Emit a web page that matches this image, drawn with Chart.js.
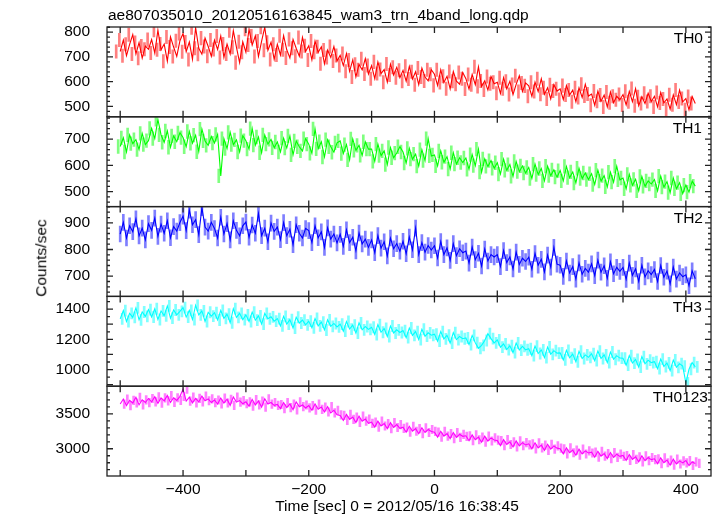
<!DOCTYPE html>
<html>
<head>
<meta charset="utf-8">
<title>wam3 light curves</title>
<script src="https://cdn.jsdelivr.net/npm/chart.js@4.4.1/dist/chart.umd.min.js"></script>
<style>
  html, body { margin: 0; padding: 0; background: #fff; }
  #wrap { position: relative; width: 717px; height: 516px; font-family: "Liberation Sans", Arial, sans-serif; color: #000; }
  #plot { position: absolute; left: 0; top: 0; }
  .txt { position: absolute; font-size: 15.5px; line-height: 1; white-space: nowrap; }
</style>
</head>
<body>
<div id="wrap">
  <canvas id="plot" width="717" height="516"></canvas>
  <div class="txt" style="left:108px; top:7px;">ae807035010_20120516163845_wam3_trn_4band_long.qdp</div>
  <div class="txt" style="left:41px; top:258px; transform:translate(-50%,-50%) rotate(-90deg);">Counts/sec</div>
  <div class="txt" style="left:397px; top:498px; transform:translateX(-50%);">Time [sec] 0 = 2012/05/16 16:38:45</div>
</div>
<script>
// Series names (panel labels), top to bottom
const SERIES = ['TH0', 'TH1', 'TH2', 'TH3', 'TH0123'];

// Time bins [sec] relative to 2012/05/16 16:38:45
const TIME = [
  -500,-495,-490,-485,-480,-475,-470,-465,-460,-455,
  -450,-445,-440,-435,-430,-425,-420,-415,-410,-405,
  -400,-395,-390,-385,-380,-375,-370,-365,-360,-355,
  -350,-345,-340,-335,-330,-325,-320,-315,-310,-305,
  -300,-295,-290,-285,-280,-275,-270,-265,-260,-255,
  -250,-245,-240,-235,-230,-225,-220,-215,-210,-205,
  -200,-195,-190,-185,-180,-175,-170,-165,-160,-155,
  -150,-145,-140,-135,-130,-125,-120,-115,-110,-105,
  -100,-95,-90,-85,-80,-75,-70,-65,-60,-55,
  -50,-45,-40,-35,-30,-25,-20,-15,-10,-5,
  0,5,10,15,20,25,30,35,40,45,
  50,55,60,65,70,75,80,85,90,95,
  100,105,110,115,120,125,130,135,140,145,
  150,155,160,165,170,175,180,185,190,195,
  200,205,210,215,220,225,230,235,240,245,
  250,255,260,265,270,275,280,285,290,295,
  300,305,310,315,320,325,330,335,340,345,
  350,355,360,365,370,375,380,385,390,395,
  400,405,410,415
];

// Count rates [counts/sec]
const TH0 = [
  722,768,705,751,790,712,758,695,744,731,
  770,716,808,729,752,683,781,740,702,765,
  795,721,760,690,818,735,711,776,742,703,
  768,730,785,698,752,712,806,739,677,761,
  719,812,748,785,702,764,820,727,759,690,
  751,708,786,729,696,771,735,703,779,722,
  745,688,764,719,741,672,728,698,742,684,
  706,665,714,642,688,619,670,648,693,631,
  665,612,680,633,649,598,671,627,658,616,
  646,602,662,611,640,588,655,619,603,648,
  630,585,648,597,622,571,641,602,590,637,
  612,570,629,588,660,581,603,566,621,592,
  598,553,616,571,602,548,589,624,560,595,
  583,541,598,560,612,549,575,530,588,562,
  571,528,584,546,566,519,575,536,590,542,
  550,505,562,521,546,498,558,515,541,527,
  548,506,561,519,572,503,539,512,553,520,
  541,498,556,514,530,489,547,507,566,518,
  532,486,540,512
];
const TH1 = [
  672,705,651,716,683,698,660,722,679,694,
  741,702,775,716,688,731,669,712,690,724,
  706,671,729,684,715,652,738,693,676,710,
  685,718,560,702,664,726,679,697,651,713,
  694,662,740,677,708,648,716,681,699,667,
  689,651,704,666,712,640,693,671,655,702,
  681,646,739,663,690,632,698,671,650,686,
  693,645,679,621,701,657,676,638,690,662,
  662,615,681,637,655,603,668,629,647,671,
  651,609,665,624,643,597,660,618,702,636,
  640,598,655,612,633,586,648,605,629,611,
  628,585,641,599,662,574,625,596,618,589,
  610,567,624,581,603,558,615,576,598,571,
  592,550,605,565,588,541,597,561,583,555,
  580,541,596,553,575,533,589,550,571,546,
  568,527,582,540,561,518,574,536,597,545,
  552,511,566,524,547,503,558,520,541,529,
  546,503,559,517,538,496,552,511,534,492,
  525,498,540,521
];
const TH2 = [
  858,902,843,889,867,915,851,880,836,897,
  872,918,849,895,861,908,844,886,869,901,
  925,871,948,893,912,856,957,884,869,902,
  879,843,921,858,897,836,908,872,851,889,
  903,846,892,861,935,852,880,829,899,868,
  884,837,901,852,876,818,893,861,843,879,
  871,826,889,844,866,808,881,839,858,825,
  857,812,874,826,846,795,862,821,839,808,
  836,788,852,805,829,776,843,803,822,794,
  831,784,847,799,880,781,826,790,815,798,
  814,768,830,781,806,759,822,777,803,788,
  794,749,809,762,786,738,802,757,781,772,
  781,736,796,751,772,727,790,744,767,755,
  771,726,785,741,763,716,779,734,808,745,
  741,699,757,712,736,689,750,707,729,715,
  746,702,760,715,739,692,754,709,733,718,
  733,688,749,703,727,680,741,697,720,706,
  725,680,740,696,719,671,734,689,712,698,
  705,664,720,690
];
const TH3 = [
  1335,1390,1318,1372,1345,1408,1329,1381,1352,1397,
  1348,1402,1331,1388,1356,1421,1340,1394,1362,1385,
  1410,1347,1392,1331,1425,1362,1388,1318,1379,1354,
  1376,1328,1391,1339,1367,1310,1403,1345,1372,1330,
  1362,1318,1380,1327,1355,1301,1371,1336,1349,1320,
  1337,1289,1352,1301,1330,1275,1346,1308,1327,1296,
  1320,1276,1338,1289,1314,1262,1329,1286,1305,1282,
  1301,1254,1318,1268,1294,1241,1309,1263,1285,1266,
  1280,1232,1297,1247,1272,1219,1288,1242,1263,1245,
  1258,1211,1275,1226,1251,1198,1267,1221,1243,1227,
  1234,1188,1251,1203,1227,1175,1244,1198,1219,1204,
  1209,1165,1226,1178,1141,1160,1192,1238,1205,1177,
  1196,1148,1170,1132,1158,1112,1176,1129,1153,1131,
  1138,1092,1155,1106,1130,1079,1149,1101,1125,1109,
  1110,1064,1127,1078,1102,1051,1121,1073,1097,1081,
  1105,1059,1122,1073,1097,1046,1116,1068,1092,1076,
  1075,1029,1092,1043,1067,1016,1086,1038,1062,1046,
  1052,1006,1069,1020,1044,993,1063,1015,1039,1023,
  912,1002,1046,1018
];
const TH0123 = [
  3640,3712,3618,3694,3655,3738,3629,3701,3662,3720,
  3671,3745,3652,3728,3686,3763,3664,3731,3692,3748,
  3854,3683,3739,3657,3722,3671,3756,3688,3715,3662,
  3698,3641,3726,3655,3709,3622,3741,3668,3690,3645,
  3672,3611,3705,3628,3684,3597,3716,3640,3663,3622,
  3634,3575,3662,3590,3641,3558,3672,3603,3627,3585,
  3618,3552,3641,3565,3598,3527,3604,3513,3551,3486,
  3478,3405,3492,3421,3455,3376,3468,3395,3426,3364,
  3382,3311,3395,3326,3361,3288,3374,3305,3347,3292,
  3309,3237,3322,3251,3288,3215,3301,3233,3276,3248,
  3238,3167,3251,3181,3219,3146,3232,3163,3207,3178,
  3186,3115,3199,3129,3167,3094,3180,3111,3156,3125,
  3117,3046,3131,3061,3098,3026,3112,3043,3088,3055,
  3071,2999,3085,3013,3052,2978,3065,2996,3041,3009,
  2999,2928,3012,2943,2981,2908,2994,2925,2970,2939,
  2951,2879,2964,2894,2932,2859,2946,2876,2922,2891,
  2904,2833,2918,2848,2886,2813,2899,2830,2875,2845,
  2856,2785,2870,2800,2838,2765,2851,2782,2827,2797,
  2831,2760,2812,2790
];
const VALUES = [TH0, TH1, TH2, TH3, TH0123];
// typical 1-sigma error bar per panel [counts/sec]
const ERRORS = [27, 26, 30, 37, 61];

// Axis ranges and tick steps per panel
const Y_MIN = [458, 443, 624, 890, 2610];
const Y_MAX = [821, 785, 961, 1484, 3896];
const Y_LABEL_STEP = [100, 100, 100, 200, 500];
const Y_MAJOR_TICK = [100, 100, 100, 100, 500];
const Y_MINOR_TICK = [20, 20, 20, 50, 100];
const X_MIN = -521, X_MAX = 440;
const X_LABEL_STEP = 200;
const X_TICKS = [-500, -400, -300, -200, -100, 0, 100, 200, 300, 400];

const COLORS = ['#ff0000', '#00ff00', '#0000ff', '#00ffff', '#ff00ff'];
const ERR_COLORS = ['rgba(255,0,0,0.5)', 'rgba(0,255,0,0.5)', 'rgba(0,0,255,0.5)', 'rgba(0,255,255,0.5)', 'rgba(255,0,255,0.5)'];
const LABEL_RIGHT = [703, 702, 703, 702, 708];

const FONT = { family: '"Liberation Sans", Arial, sans-serif', size: 15.5 };
const fmt = v => (v < 0 ? '\u2212' + Math.abs(v) : String(v));

// tick values that are multiples of step inside [min, max]
const stepTicks = (min, max, step) => {
    const out = [];
    for (let v = Math.ceil(min / step) * step; v <= max; v += step) out.push({ value: v });
    return out;
};

// Frames and inward ticks on every panel
const framePlugin = {
    id: 'qdpFrames',
    afterDatasetsDraw(chart) {
        const { ctx, chartArea: area, scales } = chart;
        const x = scales.x;
        ctx.save();
        ctx.strokeStyle = '#222';
        ctx.lineWidth = 1.3;
        SERIES.forEach((name, i) => {
            const y = scales['y' + i];
            ctx.beginPath();
            stepTicks(y.min, y.max, Y_MINOR_TICK[i]).forEach(({ value: v }) => {
                const py = y.getPixelForValue(v);
                const len = v % Y_MAJOR_TICK[i] === 0 ? 6 : 3;
                ctx.moveTo(area.left, py); ctx.lineTo(area.left + len, py);
                ctx.moveTo(area.right, py); ctx.lineTo(area.right - len, py);
            });
            X_TICKS.forEach(v => {
                const px = x.getPixelForValue(v);
                ctx.moveTo(px, y.top); ctx.lineTo(px, y.top + 6);
                ctx.moveTo(px, y.bottom); ctx.lineTo(px, y.bottom - 6);
            });
            ctx.stroke();
            ctx.strokeRect(area.left, y.top, area.right - area.left, y.bottom - y.top);
        });
        ctx.restore();
    }
};

const datasets = [];
SERIES.forEach((name, i) => {
    const vals = VALUES[i];
    datasets.push({
        type: 'line', label: name, yAxisID: 'y' + i, order: 0,
        data: TIME.map((t, k) => ({ x: t, y: vals[k] })),
        borderColor: COLORS[i], borderWidth: 1.1, pointRadius: 0
    });
    datasets.push({
        type: 'bar', label: name + ' error', yAxisID: 'y' + i, order: 1,
        data: TIME.map((t, k) => ({ x: t, y: [vals[k] - ERRORS[i], vals[k] + ERRORS[i]] })),
        backgroundColor: ERR_COLORS[i], borderWidth: 0, barThickness: 2
    });
});

const scales = {
    x: {
        type: 'linear', position: 'bottom', min: X_MIN, max: X_MAX, offset: false,
        grid: { display: false }, border: { display: false },
        ticks: { autoSkip: false, padding: -4, color: '#000', font: FONT, callback: fmt, maxRotation: 0 },
        afterBuildTicks: s => { s.ticks = stepTicks(X_MIN, X_MAX, X_LABEL_STEP); },
        afterFit: s => { s.height = 30; }
    }
};
SERIES.forEach((name, i) => {
    scales['y' + i] = {
        type: 'linear', position: 'left', stack: 'panels', stackWeight: 1, weight: SERIES.length - i,
        min: Y_MIN[i], max: Y_MAX[i],
        grid: { display: false }, border: { display: false },
        ticks: { autoSkip: false, padding: 9, color: '#000', font: FONT, callback: fmt },
        afterBuildTicks: s => { s.ticks = stepTicks(Y_MIN[i], Y_MAX[i], Y_LABEL_STEP[i]); },
        afterFit: s => { s.width = 107; }
    };
});

const chart = new Chart(document.getElementById('plot'), {
    data: { datasets },
    options: {
        responsive: false,
        animation: false,
        devicePixelRatio: 1,
        layout: { padding: { top: 27, right: 6, bottom: 10, left: 0 } },
        plugins: { legend: { display: false }, tooltip: { enabled: false } },
        scales
    },
    plugins: [framePlugin]
});

// Panel labels as text, placed from each panel's scale
const wrap = document.getElementById('wrap');
SERIES.forEach((name, i) => {
    const y = chart.scales['y' + i];
    const el = document.createElement('div');
    el.className = 'txt';
    el.textContent = name;
    el.style.top = (y.top + 3) + 'px';
    el.style.right = (717 - LABEL_RIGHT[i]) + 'px';
    wrap.appendChild(el);
});
</script>
</body>
</html>
